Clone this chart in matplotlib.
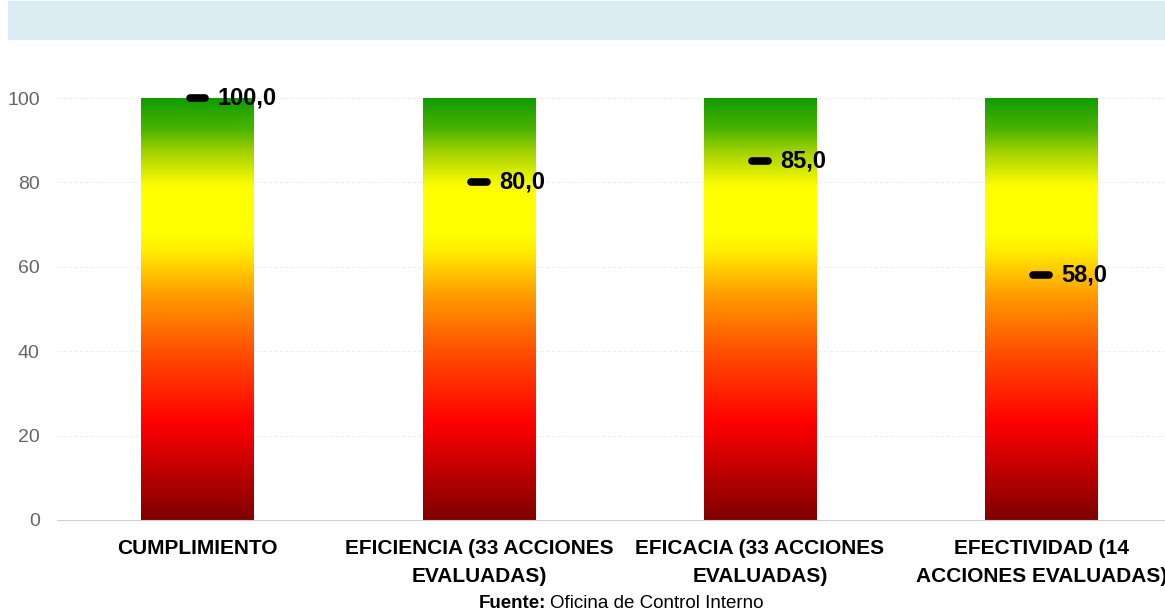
import numpy as np
import matplotlib.pyplot as plt
from matplotlib.colors import LinearSegmentedColormap

categorias = ["CUMPLIMIENTO", "EFICIENCIA (33 ACCIONES\nEVALUADAS)",
              "EFICACIA (33 ACCIONES\nEVALUADAS)", "EFECTIVIDAD (14\nACCIONES EVALUADAS)"]
escala = [100, 100, 100, 100]
resultados = [100.0, 80.0, 85.0, 58.0]
etiquetas = ["100,0", "80,0", "85,0", "58,0"]
marcas_y = [0, 20, 40, 60, 80, 100]

fuente = "Liberation Sans"

# semaforo: rojo oscuro abajo, amarillo en el medio, verde arriba
semaforo = LinearSegmentedColormap.from_list("semaforo", [
    (0.00, "#800000"),
    (0.23, "#ff0000"),
    (0.40, "#ff5000"),
    (0.53, "#ff9a00"),
    (0.64, "#ffee00"),
    (0.68, "#ffff00"),
    (0.79, "#ffff00"),
    (0.87, "#a8d400"),
    (0.93, "#48b400"),
    (1.00, "#129c00"),
])

fig = plt.figure(figsize=(11.65, 6.14), dpi=100)

# franja de titulo
fig.patches.append(plt.Rectangle((8 / 1165, 1 - 39 / 614), 1, 38 / 614,
                                 transform=fig.transFigure, color="#dbedf3", zorder=0))

ax = fig.add_axes([57 / 1165, (614 - 520) / 614, 1 - 57 / 1165, 465 / 614])
x = np.arange(len(categorias))
ax.set_xlim(-0.5, 3.44)
ax.set_ylim(0, 110.2)

barras = ax.bar(x, escala, width=0.40, color="none", zorder=2)
grad = np.linspace(0, 1, 256).reshape(-1, 1)
for b in barras:
    im = ax.imshow(grad, cmap=semaforo, origin="lower", aspect="auto",
                   extent=(b.get_x(), b.get_x() + b.get_width(), 0, 100), zorder=2)
    im.set_clip_path(b)

for i, (v, t) in enumerate(zip(resultados, etiquetas)):
    ax.plot([i - 0.028, i + 0.028], [v, v], color="black", lw=5.5,
            solid_capstyle="round", zorder=4)
    ax.text(i + 0.072, v, t, va="center", ha="left", fontsize=17,
            fontweight="bold", family=fuente, zorder=5)

ax.set_yticks(marcas_y)
ax.set_yticklabels([str(m) for m in marcas_y], color="#666666", fontsize=14,
                   family=fuente)
ax.tick_params(axis="y", length=0, pad=12.5)
ax.set_xticks(x)
ax.set_xticklabels(categorias, fontsize=15, fontweight="bold", family=fuente,
                   linespacing=1.55)
ax.tick_params(axis="x", length=0, pad=14)
ax.grid(axis="y", color="#eeeeee", lw=0.8, ls=(0, (3, 2)))
ax.set_axisbelow(True)
for s in ["top", "right", "left"]:
    ax.spines[s].set_visible(False)
ax.spines["bottom"].set_color("#d0d0d0")
ax.set_facecolor("none")

yf = 1 - 603 / 614
fig.text(546 / 1165, yf, "Fuente:", ha="right", va="center", fontsize=13.5,
         fontweight="bold", family=fuente)
fig.text(550 / 1165, yf, "Oficina de Control Interno", ha="left", va="center",
         fontsize=13.5, family=fuente)

fig.savefig("out.png", dpi=100)
